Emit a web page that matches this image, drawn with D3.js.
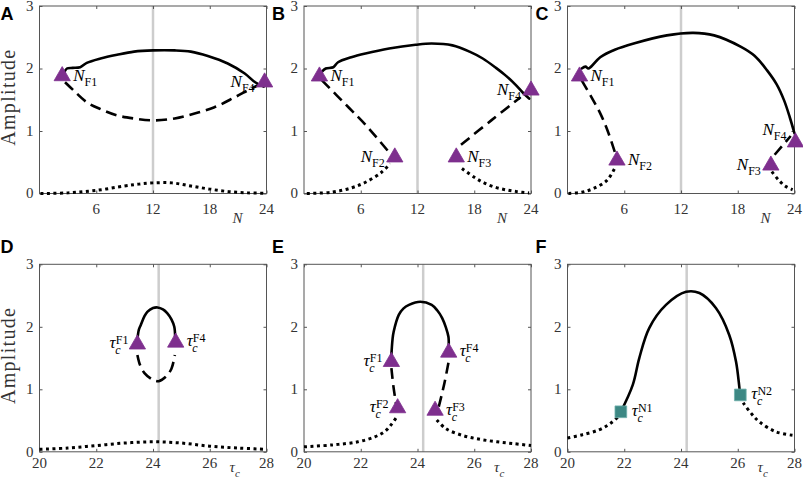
<!DOCTYPE html>
<html>
<head>
  <meta charset="utf-8">
  <title>Amplitude branches</title>
  <script src="https://d3js.org/d3.v7.min.js"></script>
  <style>
    body { margin: 0; background: #fff; }
  </style>
</head>
<body>
<div id="chart"></div>
<script>
// ---- data ----
var N_ticks   = [6, 12, 18, 24];
var tau_ticks = [20, 22, 24, 26, 28];
var amp_ticks = [0, 1, 2, 3];
var N_ref = 12, tau_ref = 24.2;   // grey reference lines

// panel A
var A_stable   = [[2.6,1.93],[2.9,2.0],[3.5,2.01],[4.3,2.02],[5.0,2.09],[6.45,2.16],[8.2,2.22],[10,2.27],[12,2.29],[14.3,2.29],[16,2.27],[17.8,2.2],[19.9,2.08],[21.7,1.92],[22.8,1.78],[23.7,1.71]];
var A_unstable = [[2.7,1.78],[3.6,1.65],[5.0,1.46],[6.45,1.35],[8.2,1.25],[10,1.2],[12,1.17],[14.3,1.2],[16.4,1.28],[18.5,1.38],[20.65,1.54],[22.4,1.68],[23.5,1.76]];
var A_dotted   = [[0.1,0.0],[3,0.01],[6,0.05],[9,0.12],[10.5,0.15],[12,0.17],[14,0.17],[16,0.12],[18,0.07],[20,0.03],[22,0.01],[24,0.005]];
var A_folds    = [[2.4,1.88],[23.8,1.78]];
var A_names    = ["F1","F4"];

// panel B
var B_stable    = [[1.9,1.95],[2.3,2.0],[3.1,2.02],[3.6,2.1],[5,2.18],[6.5,2.24],[9,2.32],[11.8,2.38],[13.5,2.4],[15.7,2.37],[17.5,2.27],[18.9,2.16],[20.3,2.01],[21.3,1.89],[22.3,1.75],[23.1,1.62],[23.8,1.52]];
var B_unstable1 = [[1.9,1.81],[4.7,1.38],[6.5,1.1],[9.1,0.64]];
var B_unstable2 = [[16.6,0.78],[19.8,1.17],[22.9,1.54]];
var B_dotted1   = [[0.3,0.0],[2.9,0.02],[5,0.09],[6.5,0.18],[8.2,0.34],[9.1,0.48]];
var B_dotted2   = [[16.7,0.4],[18,0.26],[18.9,0.18],[20,0.11],[21.3,0.06],[22.5,0.03],[23.8,0.01]];
var B_folds     = [[1.63,1.875],[9.6,0.58],[16.1,0.58],[24.0,1.65]];
var B_names     = ["F1","F2","F3","F4"];

// panel C
var C_stable    = [[1.5,2.0],[1.9,2.03],[2.2,2.0],[2.5,2.03],[3.46,2.18],[5,2.3],[7,2.4],[10.5,2.53],[13.3,2.57],[15.5,2.53],[18.3,2.35],[19.8,2.2],[21.1,1.97],[22.1,1.75],[22.9,1.49],[23.5,1.22],[24.0,0.96]];
var C_unstable1 = [[1.5,1.81],[2.5,1.55],[3.5,1.27],[4.3,0.98],[5.05,0.64]];
var C_unstable2 = [[21.9,0.62],[23.6,0.92]];
var C_dotted1   = [[0.1,0.0],[1.5,0.02],[2.75,0.08],[4.17,0.21],[5.05,0.42]];
var C_dotted2   = [[21.6,0.35],[22.3,0.22],[23,0.12],[23.8,0.06]];
var C_folds     = [[1.27,1.875],[5.23,0.53],[21.5,0.45],[24.1,0.82]];
var C_names     = ["F1","F2","F3","F4"];

// panel D
var D_stable   = [[23.45,1.79],[23.5,1.95],[23.57,2.03],[23.7,2.17],[23.8,2.24],[24.0,2.3],[24.16,2.31],[24.35,2.28],[24.5,2.22],[24.65,2.12],[24.75,2.0],[24.78,1.84]];
var D_unstable = [[23.45,1.55],[23.55,1.38],[23.7,1.26],[24.0,1.15],[24.2,1.13],[24.45,1.2],[24.65,1.33],[24.77,1.55]];
var D_dotted   = [[20,0.04],[21,0.06],[22,0.1],[23,0.14],[24,0.16],[25,0.14],[26,0.09],[27,0.06],[28,0.04]];
var D_folds    = [[23.45,1.72],[24.8,1.75]];
var D_names    = ["F1","F4"];

// panel E
var E_stable    = [[23.08,1.55],[23.12,1.8],[23.16,1.92],[23.34,2.19],[23.5,2.29],[23.7,2.35],[24.1,2.4],[24.5,2.35],[24.7,2.26],[24.87,2.14],[25.0,1.99],[25.09,1.84],[25.1,1.68]];
var E_unstable1 = [[23.08,1.34],[23.15,1.05],[23.25,0.75]];
var E_unstable2 = [[24.75,0.72],[24.95,1.1],[25.1,1.45]];
var E_dotted1   = [[20,0.08],[21,0.11],[21.9,0.16],[22.5,0.24],[22.83,0.32],[23.05,0.42],[23.24,0.54]];
var E_dotted2   = [[24.68,0.51],[25.0,0.37],[25.6,0.26],[26.2,0.2],[26.8,0.16],[27.4,0.13],[28,0.1]];
var E_folds     = [[23.08,1.44],[23.3,0.7],[24.62,0.66],[25.1,1.59]];
var E_names     = ["F1","F2","F3","F4"];

// panel F
var F_stable  = [[21.88,0.64],[22.3,1.07],[22.53,1.5],[22.88,1.98],[23.47,2.35],[24.18,2.56],[24.65,2.54],[25.23,2.3],[25.7,1.87],[25.94,1.44],[26.06,1.02],[26.09,0.91]];
var F_dotted1 = [[20,0.22],[20.5,0.27],[21.1,0.35],[21.5,0.45],[21.88,0.6]];
var F_dotted2 = [[26.09,0.88],[26.2,0.78],[26.5,0.6],[26.76,0.48],[27.35,0.32],[28,0.26]];
var F_nodes   = [[21.88,0.64],[26.09,0.91]];
var F_names   = ["N1","N2"];

// ---- layout ----
var W = 803, H = 490;
var colLeft = [39.5, 304, 567.5], rowTop = [6, 264.3];
var pw = 227, ph = 187.5;
var serif = "'Liberation Serif', 'Times New Roman', serif";
var purple = "#7e2f8e", teal = "#3d8884";

// which side each marker label sits on: r = right, l = left, ul = up-left
var labelSide = {
  A: ["r","l"], B: ["r","l","r","l"], C: ["r","r","l","ul"],
  D: ["l","r"], E: ["l","l","r","r"], F: ["r","r"]
};

var panels = [
  {id:"A", r:0, c:0, kind:"N",   stable:[A_stable], unstable:[A_unstable], dotted:[A_dotted], marks:A_folds, names:A_names},
  {id:"B", r:0, c:1, kind:"N",   stable:[B_stable], unstable:[B_unstable1,B_unstable2], dotted:[B_dotted1,B_dotted2], marks:B_folds, names:B_names},
  {id:"C", r:0, c:2, kind:"N",   stable:[C_stable], unstable:[C_unstable1,C_unstable2], dotted:[C_dotted1,C_dotted2], marks:C_folds, names:C_names},
  {id:"D", r:1, c:0, kind:"tau", stable:[D_stable], unstable:[D_unstable], dotted:[D_dotted], marks:D_folds, names:D_names},
  {id:"E", r:1, c:1, kind:"tau", stable:[E_stable], unstable:[E_unstable1,E_unstable2], dotted:[E_dotted1,E_dotted2], marks:E_folds, names:E_names},
  {id:"F", r:1, c:2, kind:"tau", stable:[F_stable], unstable:[], dotted:[F_dotted1,F_dotted2], marks:F_nodes, names:F_names, square:true}
];

var svg = d3.select("#chart").append("svg")
  .attr("width", W).attr("height", H);

panels.forEach(function(p) {
  var left = colLeft[p.c], top = rowTop[p.r];
  var x = d3.scaleLinear()
    .domain(p.kind == "N" ? [0, 24] : [20, 28])
    .range([0, pw]);
  var y = d3.scaleLinear().domain([0, 3]).range([ph, 0]);
  var xt = p.kind == "N" ? N_ticks : tau_ticks;

  var g = svg.append("g").attr("transform", "translate(" + left + "," + top + ")");

  // panel letter
  svg.append("text")
    .attr("x", left - (p.c == 0 ? 39 : 32)).attr("y", top + (p.r == 0 ? 14 : -11))
    .attr("font-family", "'Liberation Sans', Arial, sans-serif")
    .attr("font-weight", "bold").attr("font-size", 18)
    .text(p.id);

  // grey reference line
  var ref = p.kind == "N" ? N_ref : tau_ref;
  g.append("line")
    .attr("x1", x(ref)).attr("x2", x(ref)).attr("y1", 0).attr("y2", ph)
    .attr("stroke", "#cdcdcd").attr("stroke-width", 2.5);

  // box with inward ticks on all sides
  g.append("rect").attr("width", pw).attr("height", ph)
    .attr("fill", "none").attr("stroke", "#555").attr("stroke-width", 1);
  g.append("g").call(d3.axisBottom(x).tickValues(xt).tickSize(-3).tickFormat(""))
    .attr("transform", "translate(0," + ph + ")");
  g.append("g").call(d3.axisTop(x).tickValues(xt).tickSize(-3).tickFormat(""));
  g.append("g").call(d3.axisLeft(y).tickValues(amp_ticks).tickSize(-3).tickFormat(""));
  g.append("g").call(d3.axisRight(y).tickValues(amp_ticks).tickSize(-3).tickFormat(""))
    .attr("transform", "translate(" + pw + ",0)");
  g.selectAll(".domain").remove();
  g.selectAll(".tick line").attr("stroke", "#555");

  // tick labels
  g.selectAll(".xlab").data(xt).enter().append("text")
    .attr("x", function(d) { return x(d); })
    .attr("y", ph + (p.r == 0 ? 20 : 16))
    .attr("text-anchor", "middle")
    .attr("font-family", serif).attr("font-size", 15).attr("fill", "#333")
    .text(function(d) { return d; });
  g.selectAll(".ylab").data(amp_ticks).enter().append("text")
    .attr("x", -6).attr("y", function(d) { return y(d); }).attr("dy", "0.33em")
    .attr("text-anchor", "end")
    .attr("font-family", serif).attr("font-size", 15).attr("fill", "#333")
    .text(function(d) { return d; });

  // axis titles
  if (p.kind == "N") {
    g.append("text").attr("x", 198).attr("y", ph + 29)
      .attr("text-anchor", "middle").attr("font-family", serif)
      .attr("font-style", "italic").attr("font-size", 15).attr("fill", "#333")
      .text("N");
  } else {
    var xl = g.append("text").attr("x", 190).attr("y", ph + 20)
      .attr("font-family", serif).attr("font-style", "italic")
      .attr("font-size", 15).attr("fill", "#333");
    xl.append("tspan").text("τ");
    xl.append("tspan").attr("font-size", 11).attr("dy", 5).text("c");
  }
  if (p.c == 0) {
    g.append("text")
      .attr("transform", "translate(" + (15 - left) + "," + (ph / 2 - 2) + ") rotate(-90)")
      .attr("text-anchor", "middle").attr("font-family", serif)
      .attr("font-size", 20).attr("fill", "#333")
      .attr("textLength", 96).attr("lengthAdjust", "spacing")
      .text("Amplitude");
  }

  // branches
  var line = d3.line()
    .x(function(d) { return x(d[0]); })
    .y(function(d) { return y(d[1]); })
    .curve(d3.curveCatmullRom.alpha(0.5));

  p.dotted.forEach(function(s) {
    g.append("path").attr("d", line(s)).attr("fill", "none")
      .attr("stroke", "#000").attr("stroke-width", 3)
      .attr("stroke-dasharray", "3,3.5");
  });
  p.unstable.forEach(function(s) {
    g.append("path").attr("d", line(s)).attr("fill", "none")
      .attr("stroke", "#000").attr("stroke-width", 2.6)
      .attr("stroke-dasharray", "11,6");
  });
  p.stable.forEach(function(s) {
    g.append("path").attr("d", line(s)).attr("fill", "none")
      .attr("stroke", "#000").attr("stroke-width", 2.6)
      .attr("stroke-linecap", "round");
  });

  // markers
  var sym = p.square ? d3.symbol(d3.symbolSquare, 137) : d3.symbol(d3.symbolTriangle, 115);
  g.selectAll(".mk").data(p.marks).enter().append("path")
    .attr("d", sym)
    .attr("transform", function(d) { return "translate(" + x(d[0]) + "," + y(d[1]) + ")"; })
    .attr("fill", p.square ? teal : purple)
    .attr("stroke", p.square ? "#6fb0ab" : purple).attr("stroke-width", 0.8);

  // marker labels
  p.marks.forEach(function(d, i) {
    var side = labelSide[p.id][i];
    var mx = x(d[0]), my = y(d[1]);
    if (p.kind == "N") {
      var t = g.append("text").attr("font-family", serif).attr("font-size", 17);
      t.append("tspan").attr("font-style", "italic").text("N");
      t.append("tspan").attr("font-size", 12).attr("dy", 5).text(p.names[i]);
      if (side == "r") t.attr("x", mx + 11).attr("y", my + 5);
      else if (side == "l") t.attr("x", mx - 10).attr("y", my + 5).attr("text-anchor", "end");
      else t.attr("x", mx - 9).attr("y", my - 7).attr("text-anchor", "end");
    } else {
      var lab = g.append("g");
      var t1 = lab.append("text").attr("font-family", serif).attr("font-size", 17)
        .attr("font-style", "italic").text("τ");
      var tw = t1.node().getComputedTextLength();
      var tc = lab.append("text").attr("x", tw - 0.5).attr("y", 6)
        .attr("font-family", serif).attr("font-size", 12).attr("font-style", "italic").text("c");
      var ts = lab.append("text").attr("x", tw).attr("y", -4)
        .attr("font-family", serif).attr("font-size", 12).text(p.names[i]);
      var bw = tw + Math.max(tc.node().getComputedTextLength(), ts.node().getComputedTextLength());
      var lx = side == "r" ? mx + 11 : mx - 9 - bw;
      lab.attr("transform", "translate(" + lx + "," + (my + 4) + ")");
    }
  });
});
</script>
</body>
</html>
